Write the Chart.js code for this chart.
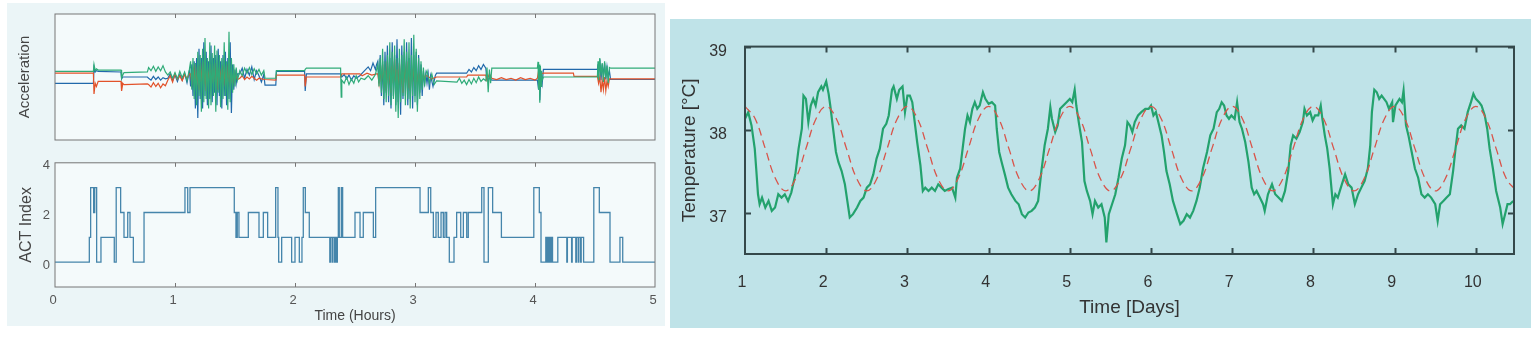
<!DOCTYPE html>
<html>
<head>
<meta charset="utf-8">
<script src="https://cdn.jsdelivr.net/npm/chart.js@4.4.1/dist/chart.umd.min.js"></script>
<style>
  body { margin: 0; width: 1537px; height: 340px; background: #fff; position: relative; overflow: hidden; }
  .bg, canvas { position: absolute; }
  #leftBg { left: 7px; top: 3px; width: 658px; height: 323px; background: #ebf5f7; }
  #rightBg { left: 670px; top: 19px; width: 861px; height: 309px; background: #bfe3e8; }
  #accChart { left: 0; top: 0; }
  #actChart { left: 0; top: 150px; }
  #tempChart { left: 670px; top: 19px; }
</style>
</head>
<body>
<div class="bg" id="leftBg"></div>
<div class="bg" id="rightBg"></div>
<canvas id="accChart" width="670" height="150"></canvas>
<canvas id="actChart" width="670" height="180"></canvas>
<canvas id="tempChart" width="861" height="309"></canvas>

<script>
// ---- left: acceleration (hours, arbitrary units) ----
const hourTicks = [0, 1, 2, 3, 4, 5];
const actTicks = [0, 2, 4];

const accGreen = [
  [0,0.09],[0.32,0.09],[0.325,0.2],[0.335,0.10],[0.345,0.13],[0.36,0.11],[0.55,0.11],[0.555,-0.02],[0.565,0.03],[0.575,0.07],[0.77,0.08],
  [0.78,0.15],[0.80,0.10],[0.82,0.17],[0.84,0.09],[0.86,0.16],[0.88,0.10],[0.90,0.18],[0.92,0.08],
  [0.94,0.03],[0.96,0.08],[0.98,-0.02],[1.00,0.07],[1.02,-0.03],[1.04,0.09],[1.06,-0.01],[1.08,0.08],[1.10,-0.06],[1.12,0.12],
  [1.13,0.25],[1.14,-0.20],[1.15,0.30],[1.16,-0.35],[1.17,0.22],[1.18,-0.45],[1.19,0.40],[1.20,-0.30],[1.21,0.35],[1.22,-0.55],
  [1.23,0.45],[1.24,-0.40],[1.25,0.62],[1.26,-0.35],[1.27,0.30],[1.28,-0.50],[1.29,0.55],[1.30,-0.45],[1.31,0.38],[1.32,-0.30],
  [1.33,0.50],[1.34,-0.55],[1.35,0.42],[1.36,-0.25],[1.37,0.35],[1.38,-0.48],[1.39,0.30],[1.40,-0.35],[1.41,0.55],[1.42,-0.30],
  [1.43,0.25],[1.44,-0.52],[1.45,0.72],[1.46,-0.40],[1.47,0.30],[1.48,-0.25],[1.49,0.20],[1.50,-0.15],[1.51,0.15],[1.52,-0.05],
  [1.54,0.10],[1.56,0.02],[1.58,0.14],[1.60,0.06],[1.62,0.15],[1.64,0.04],[1.66,0.13],[1.68,0.05],[1.70,0.12],[1.72,0.03],[1.74,0.10],
  [1.75,-0.02],[1.84,-0.02],[1.845,0.10],[2.08,0.10],[2.085,0.12],[2.095,0.14],[2.38,0.14],[2.385,-0.32],[2.39,-0.05],
  [2.41,-0.10],[2.43,0.00],[2.45,-0.12],[2.47,-0.03],[2.49,-0.10],[2.51,0.02],[2.53,-0.08],[2.55,-0.02],[2.58,-0.04],[2.61,0.02],[2.64,-0.05],[2.67,0.04],
  [2.69,0.20],[2.70,-0.15],[2.71,0.30],[2.72,-0.25],[2.73,0.45],[2.74,-0.35],[2.75,0.25],[2.76,-0.40],[2.77,0.35],[2.78,-0.30],
  [2.79,0.55],[2.80,-0.45],[2.81,0.40],[2.82,-0.35],[2.83,0.50],[2.84,-0.55],[2.85,0.30],[2.86,-0.65],[2.87,0.45],[2.88,-0.40],
  [2.89,0.35],[2.90,-0.30],[2.91,0.60],[2.92,-0.45],[2.93,0.40],[2.94,-0.35],[2.95,0.55],[2.96,-0.50],[2.97,0.35],[2.98,-0.30],
  [2.99,0.67],[3.00,-0.40],[3.01,0.45],[3.02,-0.55],[3.03,0.30],[3.04,-0.35],[3.05,0.25],[3.06,-0.20],[3.07,0.15],[3.08,-0.15],[3.09,0.05],
  [3.10,0.10],[3.12,-0.10],[3.14,0.05],[3.16,-0.12],[3.18,-0.06],[3.35,-0.08],[3.37,-0.02],[3.39,-0.10],[3.41,-0.05],[3.43,-0.12],
  [3.45,-0.04],[3.47,-0.11],[3.49,-0.02],[3.51,-0.09],[3.53,0.00],[3.55,-0.07],[3.57,-0.03],[3.59,-0.06],[3.60,0.15],[3.61,-0.24],
  [3.62,0.12],[3.63,-0.10],[3.64,0.14],[4.02,0.14],[4.025,0.24],[4.03,-0.20],[4.035,0.20],[4.04,-0.41],[4.045,0.18],[4.05,-0.15],
  [4.055,0.10],[4.06,-0.05],[4.07,0.00],[4.52,0.00],
  [4.525,0.25],[4.53,-0.05],[4.54,0.30],[4.55,0.02],[4.56,0.22],[4.57,-0.08],[4.58,0.25],[4.59,-0.02],[4.60,0.18],[4.61,-0.10],
  [4.62,0.15],[4.63,0.14],[5,0.14]
];

const accRed = [
  [0,0.06],[0.32,0.06],[0.325,-0.27],[0.335,-0.10],[0.345,-0.15],[0.36,-0.07],[0.55,-0.07],[0.555,-0.22],[0.565,-0.10],[0.575,-0.12],[0.77,-0.11],
  [0.78,-0.12],[0.80,-0.16],[0.82,-0.09],[0.84,-0.15],[0.86,-0.10],[0.88,-0.17],[0.90,-0.11],[0.92,-0.14],
  [0.94,-0.05],[0.96,0.02],[0.98,-0.08],[1.00,0.05],[1.02,-0.04],[1.04,0.02],[1.06,-0.06],[1.08,0.04],[1.10,-0.03],[1.12,0.05],
  [1.13,0.05],[1.14,-0.10],[1.15,0.15],[1.16,-0.05],[1.17,0.20],[1.18,-0.15],[1.19,0.10],[1.20,-0.20],[1.21,0.18],[1.22,-0.08],
  [1.23,0.25],[1.24,-0.12],[1.25,0.15],[1.26,-0.22],[1.27,0.10],[1.28,-0.05],[1.29,0.20],[1.30,-0.18],[1.31,0.12],[1.32,-0.10],
  [1.33,0.22],[1.34,-0.15],[1.35,0.08],[1.36,-0.20],[1.37,0.15],[1.38,-0.05],[1.39,0.18],[1.40,-0.12],[1.41,0.10],[1.42,-0.15],
  [1.43,0.20],[1.44,-0.08],[1.45,0.12],[1.46,-0.10],[1.47,0.05],[1.48,-0.12],[1.49,0.08],[1.50,-0.05],[1.51,0.03],[1.52,-0.04],
  [1.54,-0.02],[1.56,0.02],[1.58,-0.04],[1.60,0.00],[1.62,-0.03],[1.64,0.01],[1.66,-0.02],[1.68,-0.05],[1.70,-0.02],[1.72,-0.03],
  [1.75,-0.04],[1.84,-0.05],[1.845,0.03],[2.08,0.03],[2.085,-0.15],[2.095,0.00],[2.38,0.00],[2.39,0.05],[2.54,0.05],[2.56,0.02],
  [2.60,0.06],[2.64,0.03],[2.68,0.05],
  [2.69,0.05],[2.70,-0.10],[2.71,0.12],[2.72,-0.08],[2.73,0.20],[2.74,-0.15],[2.75,0.10],[2.76,-0.22],[2.77,0.25],[2.78,-0.12],
  [2.79,0.15],[2.80,-0.25],[2.81,0.18],[2.82,-0.10],[2.83,0.28],[2.84,-0.18],[2.85,0.12],[2.86,-0.20],[2.87,0.22],[2.88,-0.15],
  [2.89,0.10],[2.90,-0.25],[2.91,0.20],[2.92,-0.10],[2.93,0.25],[2.94,-0.18],[2.95,0.15],[2.96,-0.22],[2.97,0.12],[2.98,-0.08],
  [2.99,0.20],[3.00,-0.15],[3.01,0.10],[3.02,-0.12],[3.03,0.08],[3.04,-0.10],[3.05,0.05],[3.06,-0.06],[3.07,0.04],[3.08,-0.03],[3.09,0.02],
  [3.10,0.02],[3.14,-0.03],[3.18,0.00],[3.43,0.00],[3.44,0.03],[3.59,0.03],[3.60,-0.05],[3.62,0.05],[3.64,-0.02],[3.68,-0.04],
  [3.72,-0.01],[3.76,-0.04],[3.80,-0.02],[3.84,-0.05],[3.88,-0.01],[3.92,-0.04],[3.96,-0.02],[4.00,-0.05],[4.02,-0.02],[4.03,0.10],
  [4.04,-0.15],[4.05,0.05],[4.07,0.06],[4.32,0.06],[4.325,0.01],[4.52,0.01],
  [4.53,-0.10],[4.54,0.00],[4.55,-0.24],[4.56,-0.05],[4.57,-0.20],[4.58,0.00],[4.59,-0.22],[4.60,-0.06],[4.61,-0.15],[4.62,-0.03],
  [4.63,-0.03],[5,-0.03]
];

const accBlue = [
  [0,-0.10],[0.32,-0.10],[0.325,0.15],[0.335,0.08],[0.345,0.10],[0.36,0.09],[0.55,0.08],[0.555,-0.03],[0.565,0.0],[0.575,0.0],[0.77,0.0],
  [0.78,-0.02],[0.80,-0.05],[0.82,0.01],[0.84,-0.04],[0.86,0.00],[0.88,-0.05],[0.90,-0.01],[0.92,-0.03],
  [0.94,-0.02],[0.96,0.05],[0.98,-0.06],[1.00,0.03],[1.02,-0.07],[1.04,0.04],[1.06,-0.05],[1.08,0.06],[1.10,-0.09],[1.12,0.10],
  [1.13,-0.15],[1.14,0.20],[1.15,-0.30],[1.16,0.25],[1.17,-0.50],[1.18,0.30],[1.19,-0.65],[1.20,0.45],[1.21,-0.35],[1.22,0.30],
  [1.23,-0.50],[1.24,0.55],[1.25,-0.30],[1.26,0.40],[1.27,-0.45],[1.28,0.25],[1.29,-0.35],[1.30,0.50],[1.31,-0.40],[1.32,0.30],
  [1.33,-0.25],[1.34,0.35],[1.35,-0.45],[1.36,0.45],[1.37,-0.30],[1.38,0.25],[1.39,-0.50],[1.40,0.35],[1.41,-0.30],[1.42,0.40],
  [1.43,-0.45],[1.44,0.30],[1.45,-0.35],[1.46,0.55],[1.47,-0.57],[1.48,0.20],[1.49,-0.20],[1.50,0.12],[1.51,-0.10],[1.52,0.05],
  [1.54,0.05],[1.56,0.14],[1.58,-0.02],[1.60,0.12],[1.62,0.03],[1.64,0.16],[1.66,-0.04],[1.68,0.10],[1.70,0.02],[1.72,-0.08],[1.74,0.04],
  [1.75,-0.13],[1.84,-0.13],[1.845,0.09],[2.08,0.09],[2.085,-0.22],[2.095,0.05],[2.38,0.05],[2.39,0.00],
  [2.41,0.04],[2.43,-0.03],[2.45,0.03],[2.47,-0.05],[2.49,0.02],[2.51,-0.02],[2.54,0.02],[2.58,0.10],[2.61,0.16],[2.63,0.10],
  [2.65,0.22],[2.67,0.12],[2.68,0.20],
  [2.69,0.25],[2.70,-0.10],[2.71,0.35],[2.72,-0.30],[2.73,0.25],[2.74,-0.45],[2.75,0.40],[2.76,-0.25],[2.77,0.50],[2.78,-0.40],
  [2.79,0.30],[2.80,-0.50],[2.81,0.55],[2.82,-0.30],[2.83,0.35],[2.84,-0.45],[2.85,0.60],[2.86,-0.40],[2.87,0.30],[2.88,-0.60],
  [2.89,0.50],[2.90,-0.35],[2.91,0.40],[2.92,-0.30],[2.93,0.55],[2.94,-0.45],[2.95,0.30],[2.96,-0.35],[2.97,0.62],[2.98,-0.50],
  [2.99,0.35],[3.00,-0.30],[3.01,0.40],[3.02,-0.45],[3.03,0.35],[3.04,-0.25],[3.05,0.20],[3.06,-0.30],[3.07,0.10],[3.08,-0.10],[3.09,0.05],
  [3.10,-0.10],[3.11,0.05],[3.12,-0.20],[3.13,0.02],[3.15,-0.15],[3.17,0.03],[3.18,0.06],[3.43,0.06],[3.45,0.12],[3.47,0.08],
  [3.49,0.15],[3.51,0.10],[3.53,0.18],[3.55,0.12],[3.57,0.20],[3.59,0.14],[3.60,-0.05],[3.62,-0.02],[3.64,-0.05],[4.02,-0.05],
  [4.03,-0.20],[4.035,0.10],[4.04,-0.37],[4.05,0.05],[4.06,-0.10],[4.07,0.12],[4.52,0.12],
  [4.525,0.20],[4.53,0.00],[4.54,0.28],[4.55,-0.05],[4.56,0.20],[4.57,0.02],[4.58,0.22],[4.59,-0.04],[4.60,0.16],[4.61,0.00],
  [4.62,0.10],[4.63,-0.04],[5,-0.04]
];

// ACT index: [hour, level] – level holds from that hour on
const actSteps = [
  [0,0],[0.286,1],[0.297,3],[0.322,2],[0.331,3],[0.347,0],[0.383,1],[0.494,0],[0.51,3],[0.547,2],[0.575,1],[0.606,2],[0.625,1],
  [0.653,0],[0.742,2],[1.083,3],[1.106,2],[1.125,3],[1.494,2],[1.508,1],[1.519,2],[1.533,1],[1.611,2],[1.7,1],[1.736,2],[1.772,1],
  [1.839,3],[1.858,1],[1.864,0],[1.889,1],[1.972,0],[2.0,1],[2.036,0],[2.058,1],[2.069,3],[2.086,2],[2.119,1],[2.29,0],[2.296,1],
  [2.31,0],[2.316,1],[2.33,0],[2.336,1],[2.347,0],[2.353,1],[2.361,3],[2.369,1],[2.386,3],[2.397,1],[2.5,2],[2.542,1],[2.569,2],
  [2.653,1],[2.672,3],[3.042,2],[3.111,3],[3.131,2],[3.153,1],[3.175,2],[3.194,1],[3.217,2],[3.236,1],[3.25,2],[3.264,1],[3.286,0],
  [3.325,1],[3.347,2],[3.381,1],[3.403,2],[3.431,1],[3.444,2],[3.556,3],[3.575,0],[3.611,3],[3.647,2],[3.72,1],[3.99,3],[4.036,2],
  [4.05,0],[4.09,1],[4.097,0],[4.106,1],[4.114,0],[4.122,1],[4.13,0],[4.138,1],[4.146,0],[4.19,1],[4.265,0],[4.27,1],[4.305,0],
  [4.31,1],[4.34,0],[4.345,1],[4.36,0],[4.365,1],[4.38,0],[4.385,1],[4.405,0],[4.49,3],[4.536,2],[4.625,0],[4.708,1],[4.731,0],[5,0]
];

// ---- right: body temperature (days, °C) ----
const dayTicks = [1, 2, 3, 4, 5, 6, 7, 8, 9, 10];
const tempTicks = [37, 38, 39];

const tempMeasured = [
  [1.00,38.13],[1.04,38.21],[1.08,38.05],[1.12,37.77],[1.14,37.5],[1.16,37.22],[1.18,37.1],[1.21,37.18],[1.25,37.06],[1.29,37.14],
  [1.33,37.02],[1.37,37.06],[1.41,37.22],[1.45,37.18],[1.49,37.22],[1.53,37.14],[1.57,37.24],[1.62,37.46],[1.66,37.77],[1.70,38.01],
  [1.72,38.41],[1.75,38.37],[1.78,38.09],[1.81,38.29],[1.84,38.37],[1.87,38.29],[1.90,38.45],[1.94,38.52],[1.96,38.48],[2.00,38.58],
  [2.03,38.43],[2.05,38.29],[2.09,37.97],[2.12,37.73],[2.15,37.61],[2.19,37.5],[2.23,37.34],[2.26,37.14],[2.29,36.94],[2.33,36.98],
  [2.38,37.06],[2.42,37.14],[2.46,37.18],[2.50,37.3],[2.54,37.34],[2.58,37.46],[2.62,37.65],[2.66,37.77],[2.70,38.01],[2.74,38.07],
  [2.77,38.17],[2.81,38.48],[2.83,38.52],[2.87,38.37],[2.90,38.48],[2.94,38.52],[2.97,38.21],[3.00,38.41],[3.03,38.41],[3.06,38.33],
  [3.09,38.09],[3.12,37.85],[3.16,37.57],[3.19,37.26],[3.22,37.3],[3.26,37.26],[3.30,37.3],[3.34,37.26],[3.38,37.34],[3.42,37.3],
  [3.46,37.26],[3.50,37.28],[3.55,37.3],[3.59,37.18],[3.61,37.42],[3.65,37.53],[3.68,37.77],[3.71,38.01],[3.74,38.17],[3.77,38.09],
  [3.80,38.25],[3.83,38.33],[3.86,38.25],[3.89,38.29],[3.93,38.45],[3.96,38.37],[4.00,38.31],[4.04,38.33],[4.08,38.29],[4.10,38.01],
  [4.13,37.73],[4.16,37.61],[4.20,37.46],[4.24,37.3],[4.28,37.22],[4.33,37.14],[4.37,37.1],[4.41,36.98],[4.45,36.94],[4.49,37.0],
  [4.53,37.02],[4.57,37.06],[4.61,37.14],[4.65,37.5],[4.69,37.81],[4.73,38.01],[4.76,38.27],[4.78,38.13],[4.82,37.97],[4.85,38.05],
  [4.88,38.25],[4.92,38.29],[4.96,38.33],[5.00,38.37],[5.03,38.33],[5.06,38.48],[5.08,38.29],[5.11,38.09],[5.15,37.85],[5.18,37.38],
  [5.21,37.26],[5.25,37.14],[5.28,36.98],[5.31,37.14],[5.35,37.06],[5.39,37.1],[5.43,36.94],[5.45,36.64],[5.48,36.98],[5.52,37.1],
  [5.56,37.22],[5.60,37.42],[5.64,37.65],[5.68,37.81],[5.71,38.09],[5.74,38.05],[5.77,37.97],[5.80,38.09],[5.84,38.17],[5.88,38.21],
  [5.93,38.25],[5.97,38.25],[6.00,38.29],[6.03,38.17],[6.06,38.21],[6.09,38.09],[6.13,37.93],[6.16,37.73],[6.19,37.5],[6.23,37.34],
  [6.27,37.14],[6.32,36.98],[6.36,36.86],[6.40,36.9],[6.44,36.98],[6.48,36.94],[6.52,37.02],[6.56,37.14],[6.60,37.3],[6.64,37.53],
  [6.69,37.73],[6.73,37.93],[6.77,38.01],[6.81,38.21],[6.84,38.25],[6.87,38.33],[6.90,38.29],[6.93,38.17],[6.96,38.13],[6.99,38.17],
  [7.03,38.13],[7.06,38.33],[7.09,38.09],[7.12,38.01],[7.16,37.85],[7.20,37.61],[7.24,37.3],[7.27,37.22],[7.30,37.26],[7.34,37.18],
  [7.38,37.1],[7.40,37.02],[7.44,37.22],[7.49,37.34],[7.53,37.22],[7.57,37.18],[7.61,37.14],[7.65,37.26],[7.69,37.5],[7.72,37.81],
  [7.75,37.93],[7.79,37.89],[7.83,37.97],[7.87,38.09],[7.89,38.25],[7.92,38.17],[7.96,38.21],[7.99,38.11],[8.02,38.17],[8.06,38.17],
  [8.09,38.29],[8.11,38.13],[8.14,37.93],[8.17,37.77],[8.20,37.53],[8.24,37.1],[8.27,37.22],[8.30,37.18],[8.35,37.34],[8.39,37.46],
  [8.43,37.34],[8.47,37.3],[8.51,37.1],[8.55,37.22],[8.59,37.3],[8.63,37.38],[8.67,37.53],[8.70,37.81],[8.72,38.21],[8.75,38.48],
  [8.78,38.45],[8.81,38.37],[8.84,38.41],[8.87,38.37],[8.90,38.33],[8.93,38.25],[8.97,38.33],[8.98,38.09],[9.01,38.29],[9.06,38.37],
  [9.09,38.33],[9.11,38.47],[9.14,38.05],[9.17,37.93],[9.21,37.73],[9.25,37.53],[9.29,37.42],[9.33,37.22],[9.37,37.18],[9.41,37.22],
  [9.45,37.18],[9.50,37.1],[9.53,36.9],[9.56,37.1],[9.60,37.14],[9.64,37.18],[9.68,37.22],[9.72,37.5],[9.75,37.77],[9.78,38.01],
  [9.82,38.05],[9.86,38.01],[9.90,38.21],[9.94,38.33],[9.97,38.43],[10.00,38.37],[10.04,38.33],[10.07,38.29],[10.11,38.17],[10.14,38.01],
  [10.17,37.77],[10.21,37.53],[10.25,37.26],[10.30,37.06],[10.33,36.86],[10.36,36.98],[10.39,37.1],[10.42,37.1],[10.46,37.14]
];

// fitted daily rhythm (dashed)
const tempFit = [
  [1,38.28],[1.125,38.13],[1.25,37.77],[1.375,37.41],[1.5,37.26],[1.625,37.41],[1.75,37.77],[1.875,38.13],
  [2,38.28],[2.125,38.13],[2.25,37.77],[2.375,37.41],[2.5,37.26],[2.625,37.41],[2.75,37.77],[2.875,38.13],
  [3,38.28],[3.125,38.13],[3.25,37.77],[3.375,37.41],[3.5,37.26],[3.625,37.41],[3.75,37.77],[3.875,38.13],
  [4,38.28],[4.125,38.13],[4.25,37.77],[4.375,37.41],[4.5,37.26],[4.625,37.41],[4.75,37.77],[4.875,38.13],
  [5,38.28],[5.125,38.13],[5.25,37.77],[5.375,37.41],[5.5,37.26],[5.625,37.41],[5.75,37.77],[5.875,38.13],
  [6,38.28],[6.125,38.13],[6.25,37.77],[6.375,37.41],[6.5,37.26],[6.625,37.41],[6.75,37.77],[6.875,38.13],
  [7,38.28],[7.125,38.13],[7.25,37.77],[7.375,37.41],[7.5,37.26],[7.625,37.41],[7.75,37.77],[7.875,38.13],
  [8,38.28],[8.125,38.13],[8.25,37.77],[8.375,37.41],[8.5,37.26],[8.625,37.41],[8.75,37.77],[8.875,38.13],
  [9,38.28],[9.125,38.13],[9.25,37.77],[9.375,37.41],[9.5,37.26],[9.625,37.41],[9.75,37.77],[9.875,38.13],
  [10,38.28],[10.125,38.13],[10.25,37.77],[10.375,37.41],[10.5,37.26]
];

Chart.defaults.font.family = "'Liberation Sans', Arial, sans-serif";
Chart.defaults.animation = false;
Chart.defaults.events = [];
Chart.defaults.plugins.legend.display = false;
Chart.defaults.plugins.tooltip.enabled = false;

const xy = arr => arr.map(([x, y]) => ({ x, y }));
const fixedTicks = vals => s => { s.ticks = vals.map(v => ({ value: v })); };

// box around the plot area with small inward tick marks
const framePlugin = {
  id: "frame",
  beforeDraw(chart, args, o) {
    if (!o.fill) return;
    const { ctx, chartArea: a } = chart;
    ctx.save();
    ctx.fillStyle = o.fill;
    ctx.fillRect(a.left, a.top, a.width, a.height);
    ctx.restore();
  },
  afterDraw(chart, args, o) {
    const { ctx, chartArea: a, scales } = chart;
    ctx.save();
    ctx.strokeStyle = o.color;
    ctx.lineWidth = o.width;
    ctx.strokeRect(a.left, a.top, a.width, a.height);
    ctx.beginPath();
    (o.xAt || []).forEach(v => {
      const px = Math.round(scales.x.getPixelForValue(v)) + 0.5;
      ctx.moveTo(px, a.top); ctx.lineTo(px, a.top + o.len);
      ctx.moveTo(px, a.bottom); ctx.lineTo(px, a.bottom - o.len);
    });
    (o.yAt || []).forEach(v => {
      const py = Math.round(scales.y.getPixelForValue(v)) + 0.5;
      ctx.moveTo(a.left, py); ctx.lineTo(a.left + o.len, py);
      ctx.moveTo(a.right, py); ctx.lineTo(a.right - o.len, py);
    });
    ctx.stroke();
    ctx.restore();
  }
};

const noGrid = { display: false, drawTicks: false };
const noBorder = { display: false };

// acceleration panel
new Chart(document.getElementById("accChart"), {
  type: "line",
  data: {
    datasets: [
      { data: xy(accGreen), borderColor: "#2fab78", borderWidth: 1.2 },
      { data: xy(accRed), borderColor: "#e2522a", borderWidth: 1.2 },
      { data: xy(accBlue), borderColor: "#2169ab", borderWidth: 1.2 }
    ]
  },
  options: {
    responsive: false,
    layout: { padding: { top: 14, right: 15, left: 0, bottom: 0 } },
    elements: { point: { radius: 0 }, line: { tension: 0 } },
    scales: {
      x: {
        type: "linear", min: 0, max: 5,
        grid: noGrid, border: noBorder, ticks: { display: false },
        afterBuildTicks: fixedTicks(hourTicks),
        afterFit: s => { s.height = 10; }
      },
      y: {
        min: -1, max: 1,
        grid: noGrid, border: noBorder, ticks: { display: false },
        title: { display: true, text: "Acceleration", color: "#444", font: { size: 15 }, padding: { top: 16, bottom: 0 } },
        afterFit: s => { s.width = 55; }
      }
    },
    plugins: { frame: { color: "#767676", width: 1, len: 4, fill: "#f4fafb", xAt: hourTicks.slice(1, -1) } }
  },
  plugins: [framePlugin]
});

// ACT index panel
new Chart(document.getElementById("actChart"), {
  type: "line",
  data: {
    datasets: [
      { data: xy(actSteps), stepped: "before", borderColor: "#4585ab", borderWidth: 1.3 }
    ]
  },
  options: {
    responsive: false,
    layout: { padding: { top: 11, right: 15, left: 0, bottom: 0 } },
    elements: { point: { radius: 0 } },
    scales: {
      x: {
        type: "linear", min: 0, max: 5,
        grid: noGrid, border: noBorder,
        ticks: { color: "#555", font: { size: 13 }, padding: 6, labelOffset: -2 },
        afterBuildTicks: fixedTicks(hourTicks),
        title: { display: true, text: "Time (Hours)", color: "#444", font: { size: 14 }, padding: { top: 0, bottom: 5 } },
        afterFit: s => { s.height = 43; }
      },
      y: {
        min: -1, max: 4,
        grid: noGrid, border: noBorder,
        ticks: { color: "#555", font: { size: 13 }, padding: 5, labelOffset: 3 },
        afterBuildTicks: fixedTicks(actTicks),
        title: { display: true, text: "ACT Index", color: "#444", font: { size: 16 }, padding: { top: 17, bottom: 0 } },
        afterFit: s => { s.width = 55; }
      }
    },
    plugins: { frame: { color: "#767676", width: 1, len: 4, fill: "#f4fafb", xAt: hourTicks.slice(1, -1) } }
  },
  plugins: [framePlugin]
});

// temperature panel
new Chart(document.getElementById("tempChart"), {
  type: "line",
  data: {
    datasets: [
      { data: xy(tempFit), borderColor: "#d9544a", borderWidth: 1.3, borderDash: [8, 5], tension: 0.4 },
      { data: xy(tempMeasured), borderColor: "#23a26d", borderWidth: 2.2, tension: 0 }
    ]
  },
  options: {
    responsive: false,
    layout: { padding: { top: 24, right: 17, left: 0, bottom: 0 } },
    elements: { point: { radius: 0 } },
    scales: {
      x: {
        type: "linear", min: 1, max: 10.47,
        grid: noGrid, border: noBorder,
        ticks: { color: "#333", font: { size: 16 }, padding: 19, labelOffset: -3 },
        afterBuildTicks: fixedTicks(dayTicks),
        title: { display: true, text: "Time [Days]", color: "#333", font: { size: 19 }, padding: { top: 0, bottom: 9 } },
        afterFit: s => { s.height = 74; }
      },
      y: {
        min: 36.5, max: 39,
        grid: noGrid, border: noBorder,
        ticks: { color: "#333", font: { size: 16 }, padding: 18, labelOffset: 5 },
        afterBuildTicks: fixedTicks(tempTicks),
        title: { display: true, text: "Temperature [°C]", color: "#333", font: { size: 19 }, padding: { top: 8, bottom: 0 } },
        afterFit: s => { s.width = 75; }
      }
    },
    plugins: { frame: { color: "#34484a", width: 2, len: 6, xAt: dayTicks.slice(1), yAt: tempTicks } }
  },
  plugins: [framePlugin]
});
</script>
</body>
</html>
